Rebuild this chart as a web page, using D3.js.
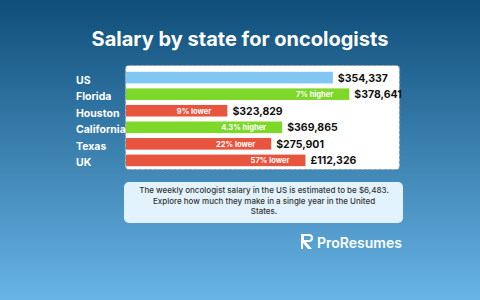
<!DOCTYPE html>
<html><head>
<meta charset="utf-8">
<script src="https://d3js.org/d3.v7.min.js"></script>
<style>
  body { margin: 0; }
  svg { display: block; font-family: "Inter", "Noto Sans", sans-serif; }
</style>
</head>
<body>
<svg id="chart" width="480" height="300"></svg>
<script>
// data
const places = ["US", "Florida", "Houston", "California", "Texas", "UK"];
const salaries = ["$354,337", "$378,641", "$323,829", "$369,865", "$275,901", "£112,326"];
const notes = ["", "7% higher", "9% lower", "4.3% higher", "22% lower", "57% lower"];
const kinds = ["base", "higher", "lower", "higher", "lower", "lower"];
// bar lengths as shown in the graphic (not to scale with salary), percent of track
const barShare = [75.5, 81.5, 37, 57, 53, 65.5];

const infoLines = [
  "The weekly oncologist salary in the US is estimated to be $6,483.",
  "Explore how much they make in a single year in the United",
  "States."
];

const colors = { base: "#82c6f4", higher: "#7ed82a", lower: "#e8553f" };

const svg = d3.select("#chart");
const W = 480, H = 300;

// background gradient
const defs = svg.append("defs");
const grad = defs.append("linearGradient").attr("id", "bg")
  .attr("x1", 0).attr("y1", 0).attr("x2", 0).attr("y2", 1);
grad.append("stop").attr("offset", "0%").attr("stop-color", "#0f4e79");
grad.append("stop").attr("offset", "100%").attr("stop-color", "#68b4e6");
svg.append("rect").attr("width", W).attr("height", H).attr("fill", "url(#bg)");

// title
svg.append("text")
  .attr("x", 240).attr("y", 46)
  .attr("text-anchor", "middle")
  .attr("fill", "#fff")
  .attr("font-size", 20)
  .attr("font-weight", 700)
  .text("Salary by state for oncologists");

// chart panel
svg.append("rect")
  .attr("x", 125.5).attr("y", 65.5).attr("width", 274).attr("height", 104)
  .attr("rx", 3)
  .attr("fill", "#fff")
  .attr("stroke", "#8a9aa8")
  .attr("stroke-width", 1.2)
  .attr("stroke-dasharray", "3,2");

const x = d3.scaleLinear().domain([0, 100]).range([126, 400]);
const y = d3.scaleBand().domain(places).range([71, 167]).paddingInner(0.3).paddingOuter(0.05);

const rows = svg.selectAll("g.row").data(places).join("g").attr("class", "row");

rows.append("rect")
  .attr("x", x(0))
  .attr("y", d => y(d))
  .attr("width", (d, i) => x(barShare[i]) - x(0))
  .attr("height", y.bandwidth())
  .attr("fill", (d, i) => colors[kinds[i]]);

rows.append("text")
  .attr("x", 76)
  .attr("y", d => y(d) + y.bandwidth() / 2 + 6)
  .attr("fill", "#fff")
  .attr("font-size", 10.5)
  .attr("font-weight", 700)
  .text(d => d);

rows.append("text")
  .attr("x", (d, i) => x(barShare[i]) + 5)
  .attr("y", d => y(d) + y.bandwidth() / 2 + 4)
  .attr("fill", "#111")
  .attr("font-size", 10.5)
  .attr("font-weight", 700)
  .text((d, i) => salaries[i]);

rows.append("text")
  .attr("x", (d, i) => x(barShare[i]) - 16)
  .attr("y", d => y(d) + y.bandwidth() / 2 + 3)
  .attr("text-anchor", "end")
  .attr("fill", "#fff")
  .attr("font-size", 7.5)
  .attr("font-weight", 700)
  .text((d, i) => notes[i]);

// info box
svg.append("rect")
  .attr("x", 124).attr("y", 182).attr("width", 279).attr("height", 41)
  .attr("rx", 5)
  .attr("fill", "#e3f3fd");

svg.selectAll("text.info").data(infoLines).join("text")
  .attr("class", "info")
  .attr("x", 264)
  .attr("y", (d, i) => 193 + i * 10.5)
  .attr("text-anchor", "middle")
  .attr("fill", "#333")
  .attr("font-size", 8)
  .attr("font-weight", 500)
  .text(d => d);

// logo
const logo = svg.append("g").attr("transform", "translate(302,234)");
logo.append("path")
  .attr("d", "M0,0 H7 A4,4 0 0 1 7,8 H4 L10,15 H6 L1,9 V15 H-1 V0 Z M2,2 V6 H7 A2,2 0 0 0 7,2 Z")
  .attr("fill", "#fff");
svg.append("text")
  .attr("x", 317).attr("y", 248)
  .attr("fill", "#fff")
  .attr("font-size", 14)
  .attr("font-weight", 600)
  .text("ProResumes");
</script>
</body>
</html>
